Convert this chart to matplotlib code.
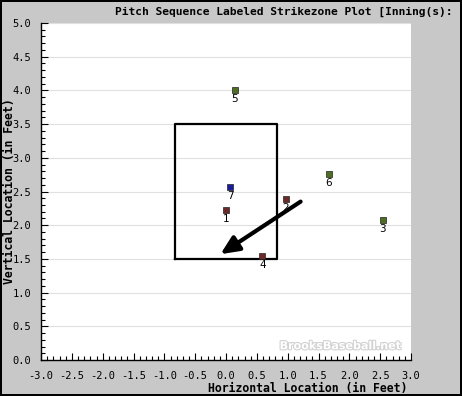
import matplotlib.pyplot as plt
import matplotlib.patheffects as pe
import numpy as np
from matplotlib.ticker import MultipleLocator

# pitch locations (feet)
pitch_no = ['1', '2', '3', '4', '5', '6', '7']
px = [0.0, 0.97, 2.54, 0.59, 0.14, 1.67, 0.07]
pz = [2.23, 2.39, 2.08, 1.54, 4.00, 2.76, 2.57]
pitch_color = ['#6e2a2a', '#6e2a2a', '#4e6e22', '#6e2a2a', '#4e6e22', '#4e6e22', '#1c1c9c']

# strike zone and arrow
zone_x = [-0.83, 0.83]
zone_z = [1.5, 3.5]
arrow_from = (1.21, 2.35)
arrow_to = (-0.09, 1.57)

mono = 'DejaVu Sans Mono'
bg = '#c8c8c8'

fig = plt.figure(figsize=(4.62, 3.96), dpi=100, facecolor=bg,
                 edgecolor='black', linewidth=1.5)
ax = fig.add_axes([41 / 462, 36 / 396, 370 / 462, 337 / 396])
ax.set_facecolor('white')

ax.set_xlim(-3.0, 3.0)
ax.set_ylim(0.0, 5.0)

# horizontal grid
for y in np.arange(0.5, 5.01, 0.5):
    ax.axhline(y, color='#e0e0e0', linewidth=0.8, zorder=0)

# strike zone box
ax.plot([zone_x[0], zone_x[1], zone_x[1], zone_x[0], zone_x[0]],
        [zone_z[0], zone_z[0], zone_z[1], zone_z[1], zone_z[0]],
        color='black', linewidth=1.6, zorder=2)

# arrow
ax.annotate('', xy=arrow_to, xytext=arrow_from,
            arrowprops=dict(arrowstyle='-|>,head_length=1.1,head_width=0.5',
                            color='black', linewidth=3.0, shrinkA=0, shrinkB=0),
            zorder=3)

# pitches
for n, x, z, c in zip(pitch_no, px, pz, pitch_color):
    ax.scatter(x, z, marker='s', s=14, c=c, edgecolors='#222222',
               linewidths=0.5, zorder=4)
    ax.text(x, z - 0.06, n, ha='center', va='top', fontsize=7.5,
            family='DejaVu Sans', zorder=4)

# watermark
ax.text(2.83, 0.13, 'BrooksBaseball.net', ha='right', va='bottom',
        fontsize=8, fontweight='bold', color='white', zorder=1,
        path_effects=[pe.withStroke(linewidth=1.6, foreground='#d2d2d2')])

for s in ['top', 'right']:
    ax.spines[s].set_visible(False)
ax.spines['left'].set_linewidth(1.0)
ax.spines['bottom'].set_linewidth(1.0)

ax.xaxis.set_major_locator(MultipleLocator(0.5))
ax.xaxis.set_minor_locator(MultipleLocator(0.1))
ax.yaxis.set_major_locator(MultipleLocator(0.5))
ax.yaxis.set_minor_locator(MultipleLocator(0.1))
ax.tick_params(which='major', direction='in', length=5, width=0.8,
               labelsize=7.5, pad=7)
ax.tick_params(which='minor', direction='in', length=3, width=0.8)
ax.tick_params(axis='x', pad=8)
ax.xaxis.set_major_formatter(plt.FuncFormatter(lambda v, p: f'{v:.1f}'))
ax.yaxis.set_major_formatter(plt.FuncFormatter(lambda v, p: f'{v:.1f}'))
for lab in ax.get_xticklabels() + ax.get_yticklabels():
    lab.set_family(mono)

ax.set_xlabel('Horizontal Location (in Feet)', family=mono, fontweight='bold',
              fontsize=8.3, labelpad=0)
ax.xaxis.set_label_coords(0.72, -0.066)
ax.set_ylabel('Vertical Location (in Feet)', family=mono, fontweight='bold',
              fontsize=8.3, labelpad=0)
ax.yaxis.set_label_coords(-0.068, 0.5)

fig.text(115 / 462, 1 - 12 / 396, 'Pitch Sequence Labeled Strikezone Plot [Inning(s):',
         family=mono, fontweight='bold', fontsize=8.1, va='center', ha='left')

fig.savefig('out.png', dpi=100, facecolor=bg, edgecolor='black')
